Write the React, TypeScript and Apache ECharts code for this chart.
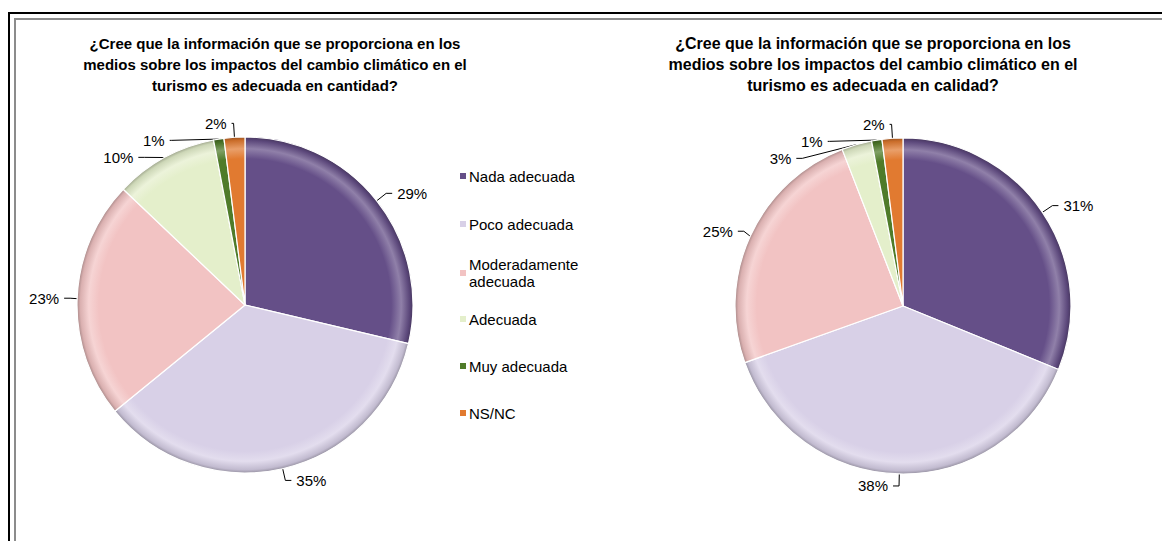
import React, { useEffect, useRef } from "react";
import * as echarts from "echarts";

const categories = ["Nada adecuada", "Poco adecuada", "Moderadamente adecuada", "Adecuada", "Muy adecuada", "NS/NC"];
const legendLabels = ["Nada adecuada", "Poco adecuada", "Moderadamente\nadecuada", "Adecuada", "Muy adecuada", "NS/NC"];
const cantidadValues = [28.7, 35.4, 23.0, 9.9, 1.0, 2.0];
const calidadValues = [31.2, 38.4, 24.6, 2.9, 1.0, 2.0];
const sliceColors = ["#654f88", "#d8d0e7", "#f2c3c3", "#e4efcb", "#4f7b29", "#e17a30"];
const titleLeft = "¿Cree que la información que se proporciona en los\nmedios sobre los impactos del cambio climático en el\nturismo es adecuada en cantidad?";
const titleRight = "¿Cree que la información que se proporciona en los\nmedios sobre los impactos del cambio climático en el\nturismo es adecuada en calidad?";

const FONT = "'Liberation Sans', Arial, sans-serif";

function shade(hex: string, f: number): string {
  const n = parseInt(hex.slice(1), 16);
  let r = (n >> 16) & 255, g = (n >> 8) & 255, b = n & 255;
  if (f >= 0) {
    r = Math.round(r + (255 - r) * f); g = Math.round(g + (255 - g) * f); b = Math.round(b + (255 - b) * f);
  } else {
    r = Math.round(r * (1 + f)); g = Math.round(g * (1 + f)); b = Math.round(b * (1 + f));
  }
  return `rgb(${r},${g},${b})`;
}

function makeSeries(values: number[], cx: number, cy: number, r: number) {
  return {
    type: "pie",
    center: [cx, cy],
    radius: [0, r],
    startAngle: 90,
    clockwise: true,
    avoidLabelOverlap: true,
    data: categories.map((name, i) => ({
      name,
      value: values[i],
      labelLine: i >= 4 ? { length: 14, length2: 2 } : undefined,
      itemStyle: {
        color: {
          type: "radial", x: cx, y: cy, r, global: true,
          colorStops: [
            { offset: 0, color: sliceColors[i] },
            { offset: 0.87, color: sliceColors[i] },
            { offset: 0.93, color: shade(sliceColors[i], 0.28) },
            { offset: 0.98, color: shade(sliceColors[i], -0.1) },
            { offset: 1, color: shade(sliceColors[i], -0.3) },
          ],
        },
        borderColor: "#ffffff",
        borderWidth: 1.2,
      },
    })),
    label: {
      show: true,
      position: "outside",
      formatter: (p: any) => Math.round(p.value) + "%",
      color: "#000",
      fontSize: 15,
      fontFamily: FONT,
    },
    labelLine: { show: true, length: 12, length2: 6, lineStyle: { color: "#000", width: 1 } },
    emphasis: { disabled: true },
  };
}

const legendTops = [167.5, 215.5, 247.5, 310.5, 357.5, 404.5];

export default function App() {
  const ref = useRef<HTMLDivElement>(null);
  useEffect(() => {
    if (!ref.current) return;
    const chart = echarts.init(ref.current, null, { renderer: "svg" });
    chart.setOption({
      animation: false,
      backgroundColor: "#ffffff",
      legend: categories.map((name, i) => ({
        data: [{ name, itemStyle: { color: sliceColors[i] } }],
        left: 458,
        top: legendTops[i],
        orient: "vertical",
        padding: 0,
        icon: "rect",
        itemWidth: 8,
        itemHeight: 8,
        selectedMode: false,
        formatter: () => legendLabels[i],
        textStyle: {
          fontSize: 15,
          fontFamily: FONT,
          color: "#000",
          lineHeight: 17,
          padding: i === 2 ? [17, 0, 0, -3] : [0, 0, 0, -3],
        },
      })),
      graphic: [
        { type: "line", z: 10, silent: true, shape: { x1: 9, y1: 12, x2: 9, y2: 541 }, style: { stroke: "#000000", lineWidth: 2 } },
        { type: "line", z: 10, silent: true, shape: { x1: 8, y1: 13, x2: 1162, y2: 13 }, style: { stroke: "#000000", lineWidth: 2 } },
        { type: "line", z: 10, silent: true, shape: { x1: 15, y1: 18, x2: 15, y2: 541 }, style: { stroke: "#8c8c8c", lineWidth: 2 } },
        { type: "line", z: 10, silent: true, shape: { x1: 14, y1: 19, x2: 1162, y2: 19 }, style: { stroke: "#8c8c8c", lineWidth: 2 } },
        { type: "text", x: 275, y: 33, style: { text: titleLeft, textAlign: "center", font: `bold 15px ${FONT}`, lineHeight: 21, fill: "#000" } },
        { type: "text", x: 873, y: 33, style: { text: titleRight, textAlign: "center", font: `bold 16px ${FONT}`, lineHeight: 21, fill: "#000" } },
      ],
      series: [makeSeries(cantidadValues, 245, 305, 168), makeSeries(calidadValues, 903, 306, 168)],
    });
    return () => chart.dispose();
  }, []);
  return <div ref={ref} style={{ position: "absolute", left: 0, top: 0, width: 1162, height: 541 }} />;
}
